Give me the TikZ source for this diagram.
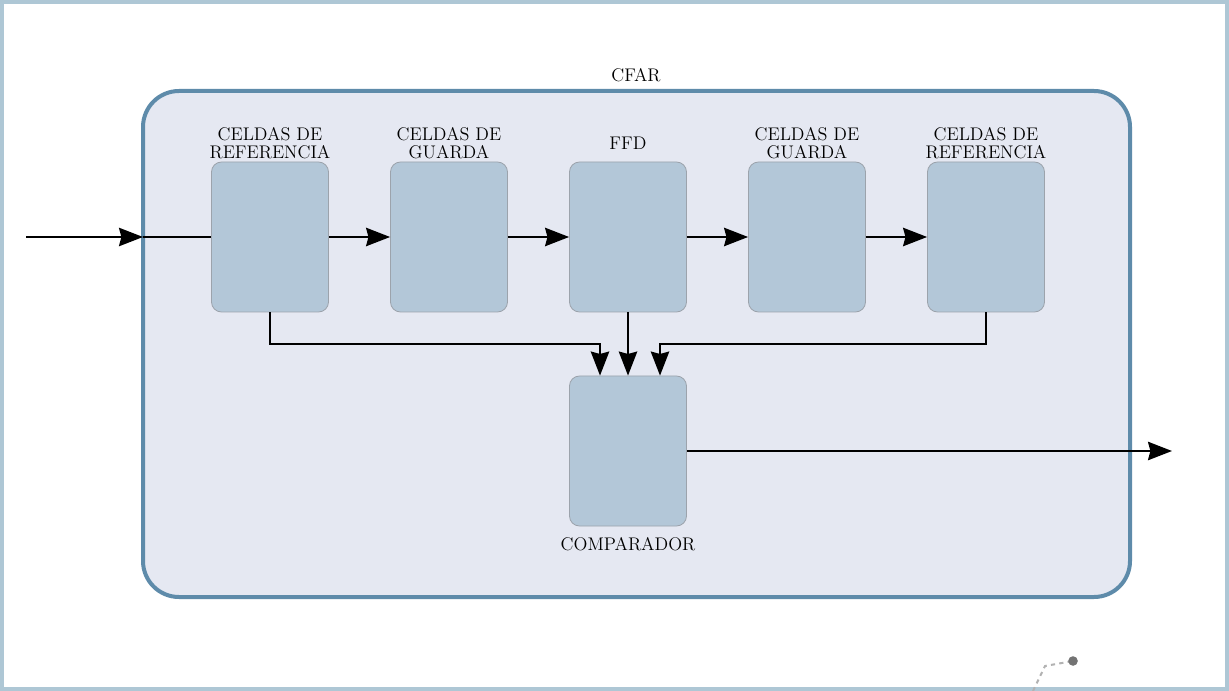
\documentclass[tikz,border=0pt]{standalone}
\usepackage{xcolor}
\usepackage{tikz}
\usetikzlibrary{arrows.meta,positioning}
\definecolor{framebd}{HTML}{AEC7D5}
\definecolor{cfarbd}{HTML}{5E8BAA}
\definecolor{cfarbg}{HTML}{E5E8F2}
\definecolor{cellbg}{HTML}{B3C7D8}
\definecolor{cellbd}{HTML}{9CA3AC}
\tikzset{
  cell/.style={rectangle,rounded corners=0.25cm,draw=cellbd,fill=cellbg,line width=0.6pt,minimum width=2.925cm,minimum height=3.75cm},
  lbl/.style={align=center,inner sep=0pt,font=\fontsize{13}{12.8}\selectfont},
  flow/.style={line width=0.05cm,-{Stealth[length=0.6cm,width=0.46cm,inset=0.06cm]}}
}
\newcommand{\cellnode}{\node[cell]}
\newcommand{\lblnode}{\node[lbl]}

\begin{document}
\begin{tikzpicture}
      \useasboundingbox (0,0) rectangle (30.725,-17.275);
      \draw[framebd,line width=0.1cm] (0.05,-0.05) rectangle (30.675,-17.225); % marco
      \draw[cfarbd,fill=cfarbg,line width=0.1cm,rounded corners=0.9cm] (3.575,-2.275) rectangle (28.25,-14.925);
      \lblnode (cfar) at (15.9,-1.875) {CFAR};
      \cellnode (ref1) at (6.75,-5.925) {}; %
      \cellnode (gua1) at (11.225,-5.925) {}; %
      \cellnode (ffd) at (15.7,-5.925) {}; %
      \cellnode (gua2) at (20.175,-5.925) {}; %
      \cellnode (ref2) at (24.65,-5.925) {}; %
      \cellnode (comp) at (15.7,-11.275) {}; %
      \lblnode[above=0.06cm of ref1] (lref1) {CELDAS DE\\REFERENCIA};
      \lblnode[above=0.06cm of gua1] (lgua1) {CELDAS DE\\GUARDA};
      \lblnode[above=0.3cm of ffd] (lffd) {FFD};
      \lblnode[above=0.06cm of gua2] (lgua2) {CELDAS DE\\GUARDA};
      \lblnode[above=0.06cm of ref2] (lref2) {CELDAS DE\\REFERENCIA};
      \lblnode[below=0.27cm of comp] (lcomp) {COMPARADOR};
      \coordinate (in) at (0.65,-5.925);
      \coordinate (edge) at (3.575,-5.925);
      \coordinate (out) at (29.3,-11.275);
      \draw[flow] (in) -- (edge);
      \draw[line width=0.05cm] (edge) -- (ref1.west);
      \draw[flow] (ref1) -- (gua1);
      \draw[flow] (gua1) -- (ffd);
      \draw[flow] (ffd) -- (gua2);
      \draw[flow] (gua2) -- (ref2);
      \draw[flow] (ref1.south) -- ++(0,-0.78) -| ([xshift=-0.7cm]comp.north);
      \draw[flow] (ffd) -- (comp);
      \draw[flow] (ref2.south) -- ++(0,-0.78) -| ([xshift=0.8cm]comp.north);
      \draw[flow] (comp.east) -- (out);
      % resto abajo a la derecha
      \draw[gray!60,dashed,line width=0.05cm] (25.825,-17.275) -- (26.125,-16.65) -- (26.825,-16.525);
      \fill[gray!90!black] (26.825,-16.525) circle (0.12);
    \end{tikzpicture}
\end{document}
